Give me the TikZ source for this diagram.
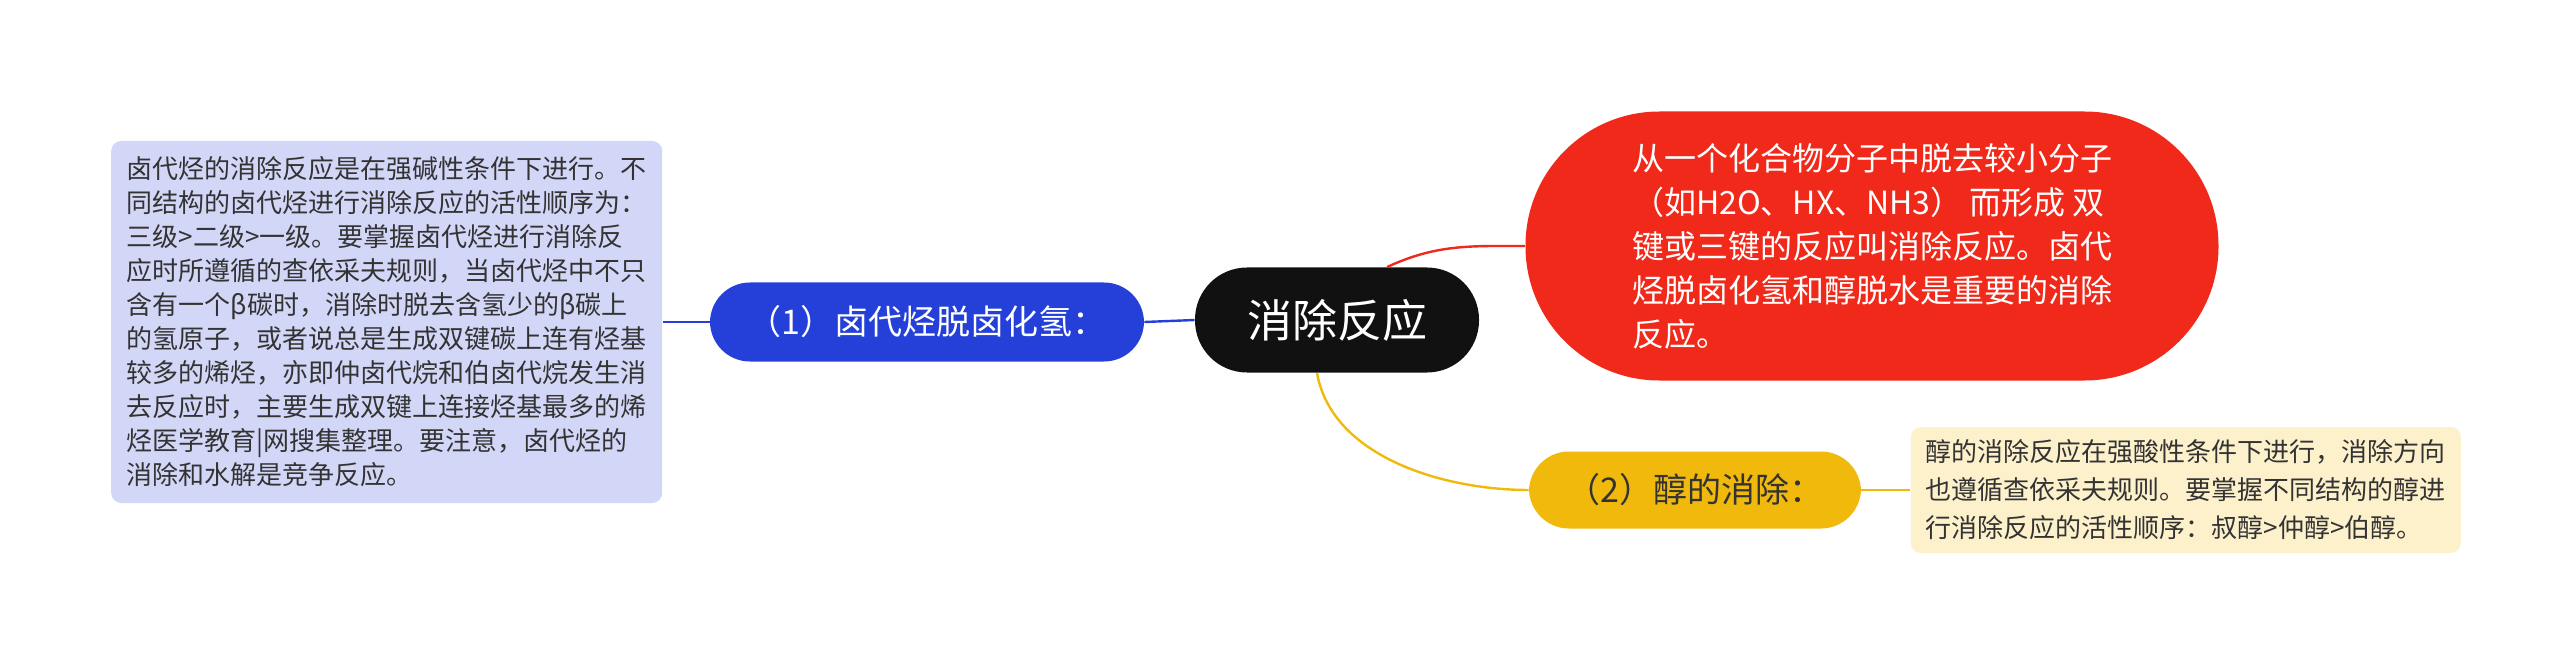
\documentclass[tikz,border=0pt]{standalone}
\usepackage{fontspec}
\setmainfont{Noto Sans CJK SC}
\usetikzlibrary{positioning}
\definecolor{rootblack}{HTML}{111111}
\definecolor{defred}{HTML}{F0291A}
\definecolor{halblue}{HTML}{2440D8}
\definecolor{halfill}{HTML}{D3D7F7}
\definecolor{alcyellow}{HTML}{F0B90B}
\definecolor{alcfill}{HTML}{FDF1CC}
\definecolor{txtgray}{HTML}{333333}
\tikzset{
  topic/.style={
    rounded corners=20pt,
    inner sep=0pt
  },
  note/.style={
    rounded corners=5pt,
    inner sep=0pt,
    align=left,
    text=txtgray,
    font=\fontsize{13}{17}\selectfont
  }
}
\begin{document}
\begin{tikzpicture}[x=0.5pt,y=-0.5pt]
      \useasboundingbox (0,0) rectangle (2560,663);
      \node [topic, fill=rootblack, text=white, rounded corners=26pt,
        minimum width=142pt, minimum height=52.5pt,
        font=\fontsize{22.5}{26}\selectfont] (Root) at (1337,320) {消除反应};

      \node [topic, fill=defred, text=white, rounded corners=67pt,
        minimum width=346.5pt, minimum height=134.5pt, align=left,
        font=\fontsize{16}{22}\selectfont] (Def) at (1872,246)
        {从一个化合物分子中脱去较小分子\\（如H2O、HX、NH3） 而形成 双\\键或三键的反应叫消除反应。卤代\\烃脱卤化氢和醇脱水是重要的消除\\反应。};

      \node [topic, fill=halblue, text=white, minimum width=217pt,
        minimum height=39.5pt, font=\fontsize{17}{20}\selectfont]
        (Hal) at (927,322) {（1）卤代烃脱卤化氢：};
      \node [topic, fill=alcyellow, text=txtgray, minimum width=166pt,
        minimum height=38.5pt, font=\fontsize{17}{20}\selectfont]
        (Alc) at (1695,490) {（2）醇的消除：};

      \node [note, fill=halfill, minimum width=275.5pt, minimum height=181pt,
        left=23.5pt of Hal] (HalNote)
        {卤代烃的消除反应是在强碱性条件下进行。不\\同结构的卤代烃进行消除反应的活性顺序为：\\三级>二级>一级。要掌握卤代烃进行消除反\\应时所遵循的查依采夫规则，当卤代烃中不只\\含有一个β碳时，消除时脱去含氢少的β碳上\\的氢原子，或者说总是生成双键碳上连有烃基\\较多的烯烃，亦即仲卤代烷和伯卤代烷发生消\\去反应时，主要生成双键上连接烃基最多的烯\\烃医学教育|网搜集整理。要注意，卤代烃的\\消除和水解是竞争反应。};
      \node [note, fill=alcfill, minimum width=275pt, minimum height=63pt,
        font=\fontsize{13}{19}\selectfont, right=24.5pt of Alc] (AlcNote)
        {醇的消除反应在强酸性条件下进行，消除方向\\也遵循查依采夫规则。要掌握不同结构的醇进\\行消除反应的活性顺序：叔醇>仲醇>伯醇。};

      \draw [defred, line width=1.2pt] ([xshift=25pt]Root.north) to[out=25,in=180] (Def.west);
      \draw [halblue, line width=1.2pt] (Root.west) to (Hal.east);
      \draw [alcyellow, line width=1.2pt] ([xshift=-10pt]Root.south) to[out=-80,in=180,looseness=0.9] (Alc.west);
      \draw [halblue, line width=1.2pt] (Hal.west) to (HalNote.east);
      \draw [alcyellow, line width=1.2pt] (Alc.east) to (AlcNote.west);
    \end{tikzpicture}
\end{document}
